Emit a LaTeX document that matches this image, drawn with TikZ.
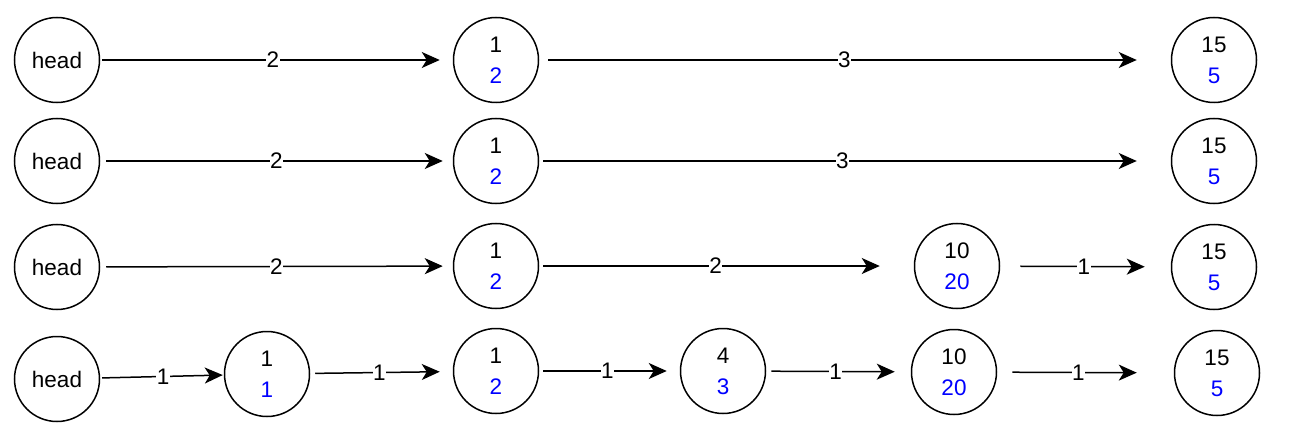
\documentclass[tikz,border=0pt]{standalone}
\usepackage{fontspec}
\setmainfont{Liberation Sans}
\usetikzlibrary{arrows.meta}
\begin{document}
\begin{tikzpicture}[x=1pt,y=-1pt,
  nd/.style={circle,draw,line width=1.5pt,minimum size=85pt,inner sep=0pt,align=center,font=\fontsize{22.5}{31}\selectfont},
  arr/.style={line width=1.5pt,-{Stealth[length=18pt,width=16pt,inset=5pt]}},
  lbl/.style={fill=white,inner sep=0.5pt,font=\fontsize{22.5}{25}\selectfont}]
\useasboundingbox (0,0) rectangle (1307,433);
\newcommand{\bl}[1]{\textcolor{blue}{#1}}
% row 1
\node[nd] (h1) at (57,60) {head};
\node[nd] (a1) at (496,60) {1\\\bl{2}};
\node[nd] (c1) at (1214,60) {15\\\bl{5}};
\draw[arr,shorten <=2pt,shorten >=13pt] (h1) -- node[lbl,pos=0.49]{2} (a1);
\draw[arr,shorten <=9pt,shorten >=34pt] (a1) -- node[lbl,pos=0.483]{3} (c1);
% row 2
\node[nd] (h2) at (57,161) {head};
\node[nd] (a2) at (496,161) {1\\\bl{2}};
\node[nd] (c2) at (1214,161) {15\\\bl{5}};
\draw[arr,shorten <=6pt,shorten >=10pt] (h2) -- node[lbl,pos=0.5]{2} (a2);
\draw[arr,shorten <=4pt,shorten >=34pt] (a2) -- node[lbl,pos=0.48]{3} (c2);
% row 3
\node[nd] (h3) at (57,267) {head};
\node[nd] (a3) at (496,266) {1\\\bl{2}};
\node[nd] (b3) at (957,266) {10\\\bl{20}};
\node[nd] (c3) at (1214,267) {15\\\bl{5}};
\draw[arr,shorten <=6pt,shorten >=10pt] (h3) -- node[lbl,pos=0.5]{2} (a3);
\draw[arr,shorten <=4pt,shorten >=34pt] (a3) -- node[lbl,pos=0.471]{2} (b3);
\draw[arr,shorten <=20pt,shorten >=26pt] (b3) -- node[lbl,pos=0.49]{1} (c3);
% row 4
\node[nd] (h4) at (57,379) {head};
\node[nd] (a4) at (267,374) {1\\\bl{1}};
\node[nd] (b4) at (496,371) {1\\\bl{2}};
\node[nd] (d4) at (723,371) {4\\\bl{3}};
\node[nd] (e4) at (954,372) {10\\\bl{20}};
\node[nd] (c4) at (1217,373) {15\\\bl{5}};
\draw[arr,shorten <=2pt,shorten >=1pt] (h4) -- node[lbl,pos=0.51]{1} (a4);
\draw[arr,shorten <=5pt,shorten >=13pt] (a4) -- node[lbl,pos=0.485]{1} (b4);
\draw[arr,shorten <=4pt,shorten >=13pt] (b4) -- node[lbl,pos=0.485]{1} (d4);
\draw[arr,shorten <=5pt,shorten >=16pt] (d4) -- node[lbl,pos=0.48]{1} (e4);
\draw[arr,shorten <=15pt,shorten >=37pt] (e4) -- node[lbl,pos=0.46]{1} (c4);
\end{tikzpicture}
\end{document}
